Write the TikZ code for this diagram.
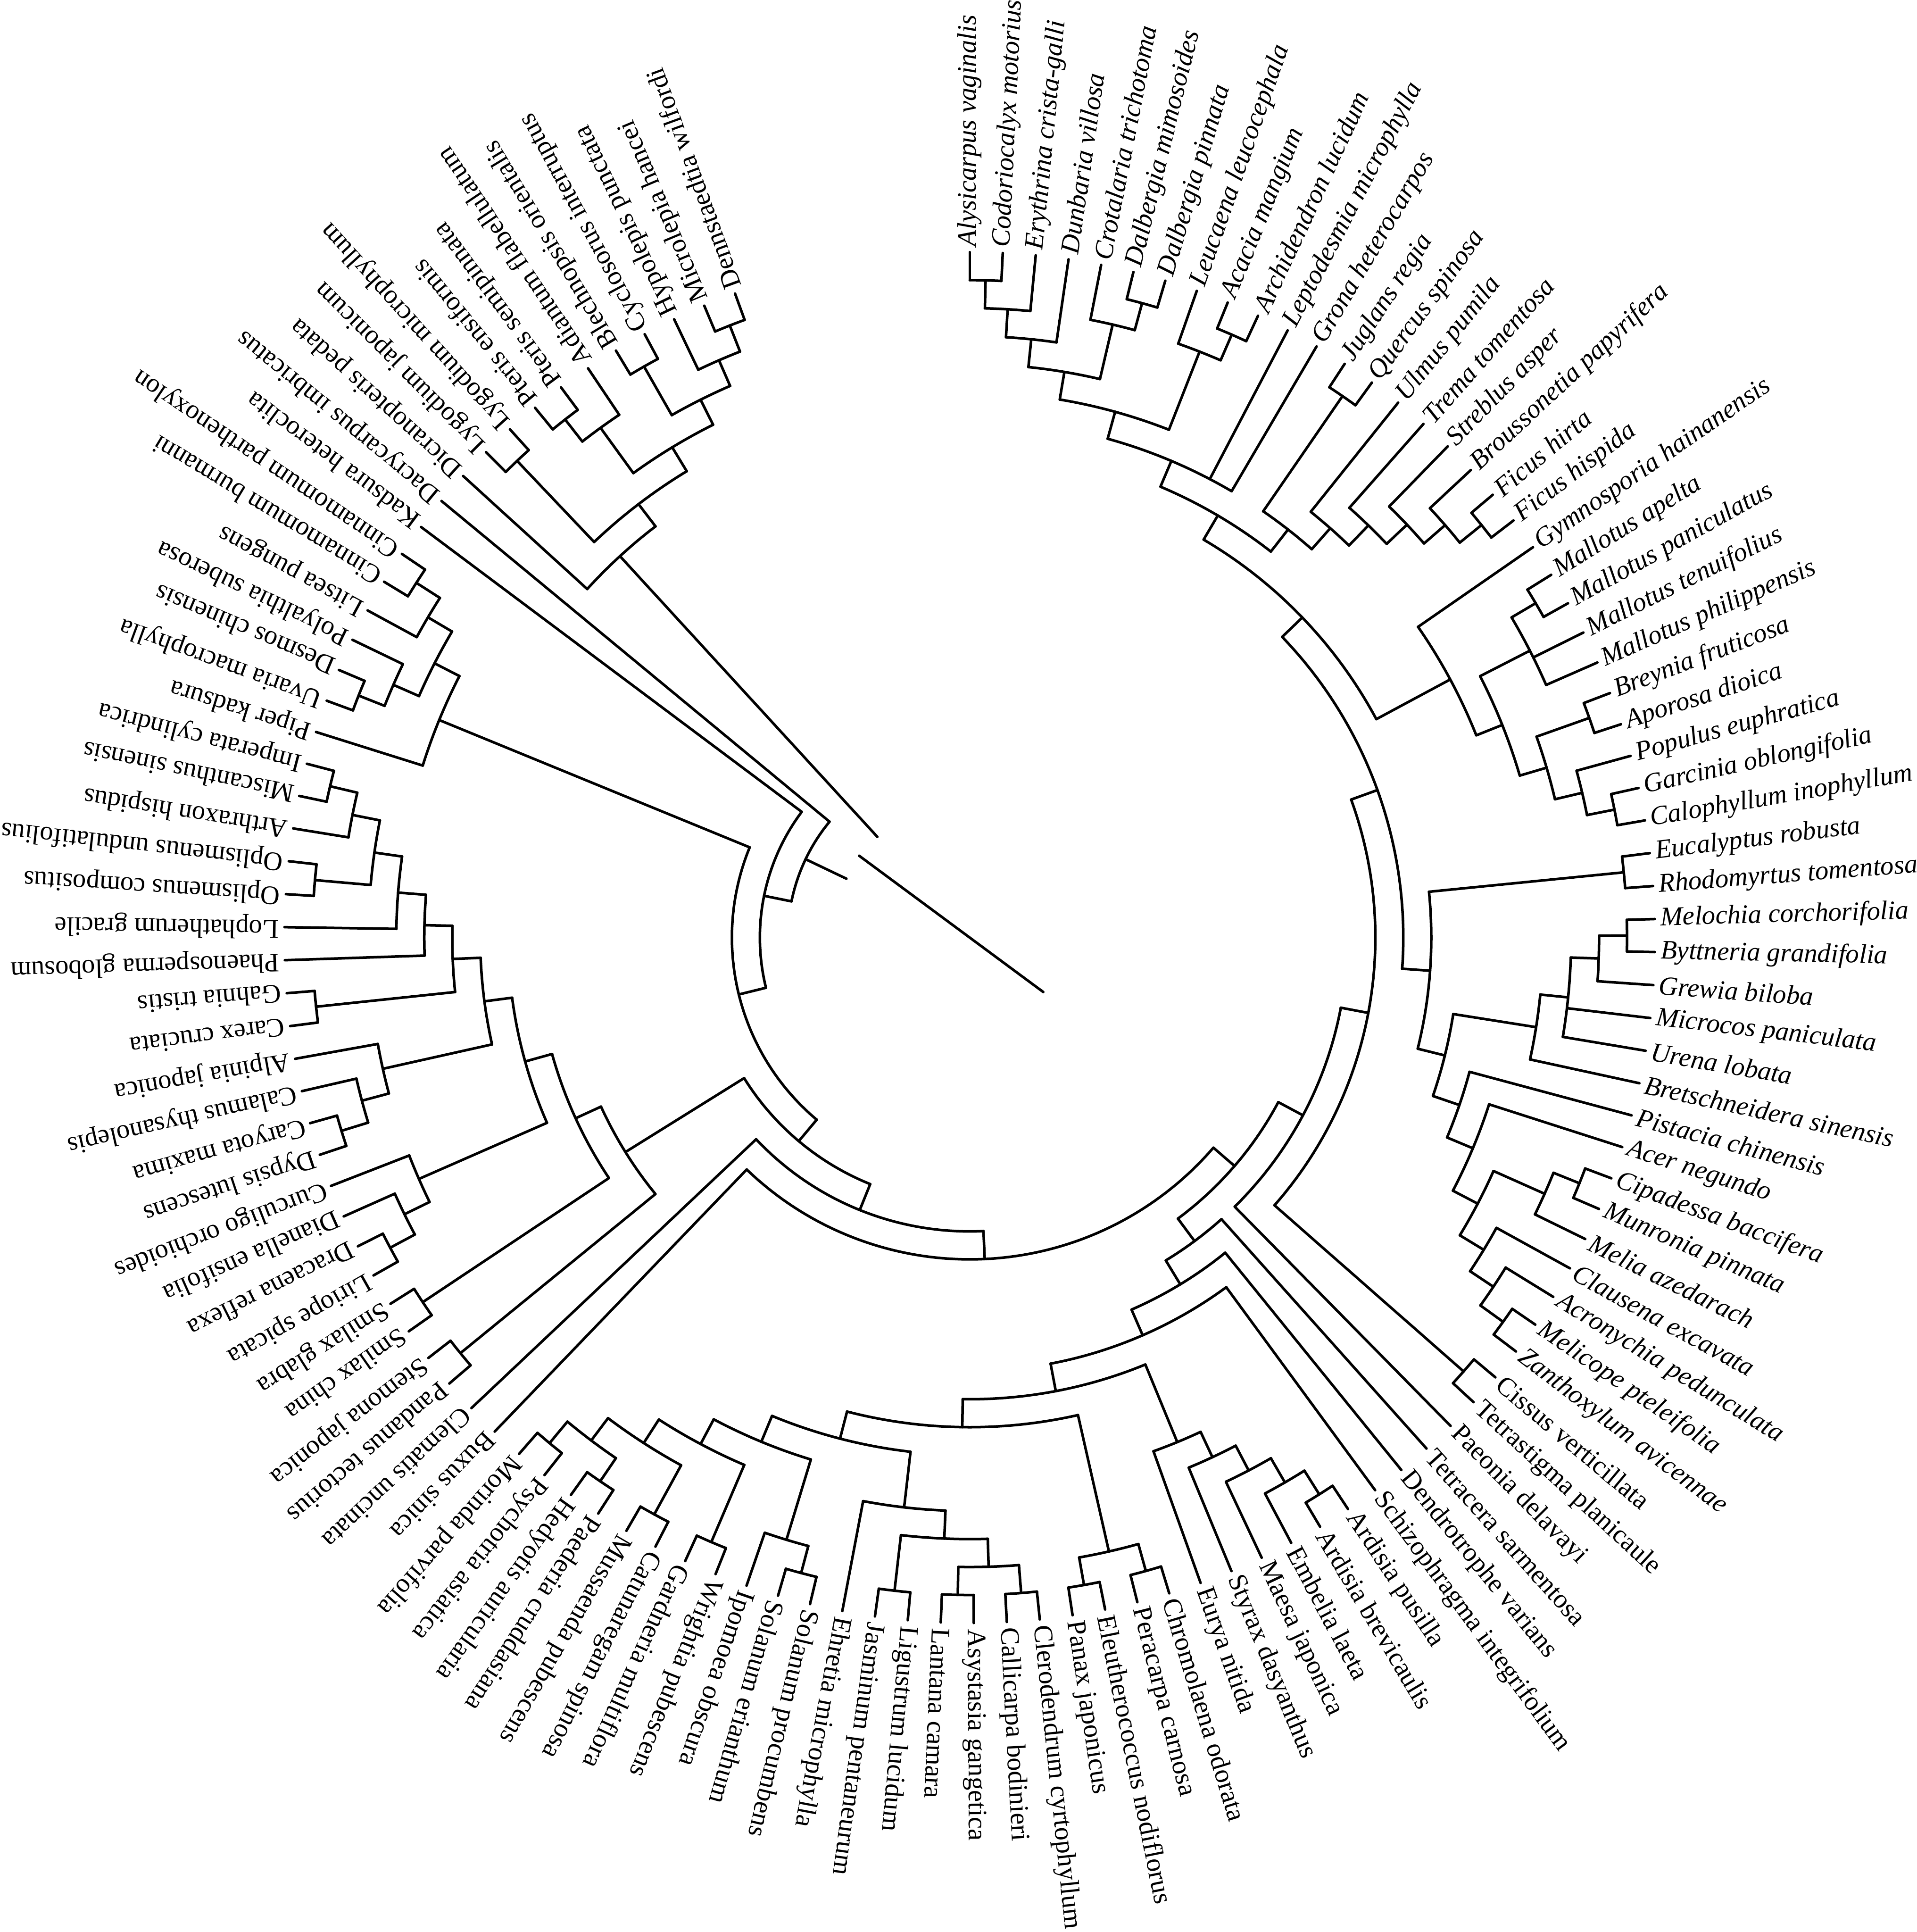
\documentclass[tikz,border=0pt]{standalone}
\usepackage{fontspec}
\setmainfont{Liberation Serif}

% radius of the tips, step between clade levels, angle between tips (cm, deg)
\newcommand{\Rt}{14.84}
\newcommand{\dr}{0.6056}
\newcommand{\angstep}{2.764}
\newcommand{\Rroot}{2.96}

% \clade{name}{children}: arc over the children, one radial stem per child
\newcommand{\clade}[2]{%
  \gdef\cfirst{}%
  \gdef\clev{0}%
  \foreach \ch in {#2}{%
    \ifx\cfirst\empty\xdef\cfirst{\ch}\fi
    \xdef\clast{\ch}%
    \pgfmathparse{max(\clev,\csname lv-\ch\endcsname)}%
    \xdef\clev{\pgfmathresult}%
  }%
  \pgfmathsetmacro\crad{\Rt-(\clev+1)*\dr}%
  \pgfmathsetmacro\afirst{\csname ang-\cfirst\endcsname}%
  \pgfmathsetmacro\alast{\csname ang-\clast\endcsname}%
  \pgfmathsetmacro\amid{(\afirst+\alast)/2}%
  \pgfmathsetmacro\clev{\clev+1}%
  \expandafter\xdef\csname ang-#1\endcsname{\amid}%
  \expandafter\xdef\csname lv-#1\endcsname{\clev}%
  \coordinate (#1) at (\amid:\crad);
  \draw[branch] (\afirst:\crad) arc[start angle=\afirst, end angle=\alast, radius=\crad];
  \foreach \ch in {#2}{%
    \edef\cang{\csname ang-\ch\endcsname}%
    \draw[branch] (\cang:\crad) -- (\ch);
  }%
}

\begin{document}
\begin{tikzpicture}[
  branch/.style={line width=1.6pt, line cap=round},
  taxon/.style={anchor=west, inner sep=0pt, font=\fontsize{16.5}{19}\selectfont},
]
\useasboundingbox (-21.00,-21.53) rectangle (20.51,20.30);

%---------------- Tips, clockwise from the top ----------------
\pgfmathsetmacro\rlab{\Rt+0.12}
\foreach \i/\sp in {
1/Alysicarpus vaginalis, 2/Codoriocalyx motorius, 3/Erythrina crista-galli,
4/Dunbaria villosa, 5/Crotalaria trichotoma, 6/Dalbergia mimosoides,
7/Dalbergia pinnata, 8/Leucaena leucocephala, 9/Acacia mangium,
10/Archidendron lucidum, 11/Leptodesmia microphylla, 12/Grona heterocarpos,
13/Juglans regia, 14/Quercus spinosa, 15/Ulmus pumila,
16/Trema tomentosa, 17/Streblus asper, 18/Broussonetia papyrifera,
19/Ficus hirta, 20/Ficus hispida, 21/Gymnosporia hainanensis,
22/Mallotus apelta, 23/Mallotus paniculatus, 24/Mallotus tenuifolius,
25/Mallotus philippensis, 26/Breynia fruticosa, 27/Aporosa dioica,
28/Populus euphratica, 29/Garcinia oblongifolia, 30/Calophyllum inophyllum,
31/Eucalyptus robusta, 32/Rhodomyrtus tomentosa, 33/Melochia corchorifolia,
34/Byttneria grandifolia, 35/Grewia biloba, 36/Microcos paniculata,
37/Urena lobata, 38/Bretschneidera sinensis, 39/Pistacia chinensis,
40/Acer negundo, 41/Cipadessa baccifera, 42/Munronia pinnata,
43/Melia azedarach, 44/Clausena excavata, 45/Acronychia pedunculata,
46/Melicope pteleifolia, 47/Zanthoxylum avicennae, 48/Cissus verticillata,
49/Tetrastigma planicaule, 50/Paeonia delavayi, 51/Tetracera sarmentosa,
52/Dendrotrophe varians, 53/Schizophragma integrifolium, 54/Ardisia pusilla,
55/Ardisia brevicaulis, 56/Embelia laeta, 57/Maesa japonica,
58/Styrax dasyanthus, 59/Eurya nitida, 60/Chromolaena odorata,
61/Peracarpa carnosa, 62/Eleutherococcus nodiflorus, 63/Panax japonicus,
64/Clerodendrum cyrtophyllum, 65/Callicarpa bodinieri, 66/Asystasia gangetica,
67/Lantana camara, 68/Ligustrum lucidum, 69/Jasminum pentaneurum,
70/Ehretia microphylla, 71/Solanum procumbens, 72/Solanum erianthum,
73/Ipomoea obscura, 74/Wrightia pubescens, 75/Gardneria multiflora,
76/Catunaregam spinosa, 77/Mussaenda pubescens, 78/Paederia cruddasiana,
79/Hedyotis auricularia, 80/Psychotria asiatica, 81/Morinda parvifolia,
82/Buxus sinica, 83/Clematis uncinata, 84/Pandanus tectorius,
85/Stemona japonica, 86/Smilax china, 87/Smilax glabra,
88/Liriope spicata, 89/Dracaena reflexa, 90/Dianella ensifolia,
91/Curculigo orchioides, 92/Dypsis lutescens, 93/Caryota maxima,
94/Calamus thysanolepis, 95/Alpinia japonica, 96/Carex cruciata,
97/Gahnia tristis, 98/Phaenosperma globosum, 99/Lophatherum gracile,
100/Oplismenus compositus, 101/Oplismenus undulatifolius, 102/Arthraxon hispidus,
103/Miscanthus sinensis, 104/Imperata cylindrica, 105/Piper kadsura,
106/Uvaria macrophylla, 107/Desmos chinensis, 108/Polyalthia suberosa,
109/Litsea pungens, 110/Cinnamomum burmanni, 111/Cinnamomum parthenoxylon,
112/Kadsura heteroclita, 113/Dacrycarpus imbricatus, 114/Dicranopteris pedata,
115/Lygodium japonicum, 116/Lygodium microphyllum, 117/Pteris ensiformis,
118/Pteris semipinnata, 119/Adiantum flabellulatum, 120/Blechnopsis orientalis,
121/Cyclosorus interruptus, 122/Hypolepis punctata, 123/Microlepia hancei,
124/Dennstaedtia wilfordi
}{
  \pgfmathsetmacro\ta{90-\angstep*(\i-1)}
  \expandafter\xdef\csname ang-t\i\endcsname{\ta}
  \expandafter\xdef\csname lv-t\i\endcsname{0}
  \ifnum\i<48 \def\tshape{\itshape}\else\def\tshape{\upshape}\fi
  \coordinate (t\i) at (\ta:\Rt);
  \node[taxon, rotate=\ta] (n\i) at (\ta:\rlab) {\tshape\sp};
}

%---------------- Fabids ----------------
\clade{fab1}{t1,t2}
\clade{fab2}{fab1,t3}
\clade{fab3}{fab2,t4}
\clade{dal}{t6,t7}
\clade{fab4}{t5,dal}
\clade{fab5}{fab3,fab4}
\clade{mim1}{t9,t10}
\clade{mim2}{t8,mim1}
\clade{fab6}{fab5,mim2}
\clade{fab}{fab6,t11,t12}
\clade{fag}{t13,t14}
\clade{fic}{t19,t20}
\clade{ros1}{t18,fic}
\clade{ros2}{t17,ros1}
\clade{ros3}{t16,ros2}
\clade{ros4}{t15,ros3}
\clade{rosfag}{fag,ros4}
\clade{fabid1}{fab,rosfag}
\clade{mal1}{t22,t23}
\clade{mal2}{mal1,t24,t25}
\clade{phy}{t26,t27}
\clade{clu}{t29,t30}
\clade{sal}{t28,clu}
\clade{malp1}{phy,sal}
\clade{malp2}{mal2,malp1}
\clade{malp}{t21,malp2}
\clade{fabid}{fabid1,malp}

%---------------- Malvids ----------------
\clade{myr}{t31,t32}
\clade{mv1}{t33,t34}
\clade{mv2}{mv1,t35}
\clade{mv3}{mv2,t36,t37}
\clade{mv4}{mv3,t38}
\clade{mel1}{t41,t42}
\clade{mel2}{mel1,t43}
\clade{rut1}{t46,t47}
\clade{rut2}{t45,rut1}
\clade{rut3}{t44,rut2}
\clade{sap1}{mel2,rut3}
\clade{sap2}{t40,sap1}
\clade{sap3}{t39,sap2}
\clade{malv1}{mv4,sap3}
\clade{malv}{myr,malv1}
\clade{ros}{fabid,malv}
\clade{vit}{t48,t49}
\clade{core1}{vit,ros}
\clade{core2}{t50,core1}

%---------------- Asterids ----------------
\clade{eric1}{t54,t55}
\clade{eric2}{eric1,t56}
\clade{eric3}{eric2,t57}
\clade{eric4}{eric3,t58}
\clade{eric}{eric4,t59}
\clade{ast1}{t60,t61}
\clade{apia}{t62,t63}
\clade{camp}{ast1,apia}
\clade{lam1}{t64,t65}
\clade{lam2}{t66,t67}
\clade{lam3}{lam2,lam1}
\clade{ole}{t68,t69}
\clade{lam4}{ole,lam3}
\clade{lam5}{lam4,t70}
\clade{sol1}{t71,t72}
\clade{sol2}{sol1,t73}
\clade{gen1}{t74,t75}
\clade{gen2}{t76,t77}
\clade{rub1}{t78,t79}
\clade{rub2}{t80,t81}
\clade{rub3}{rub1,rub2}
\clade{gen3}{gen2,rub3}
\clade{gen4}{gen1,gen3}
\clade{lamid1}{sol2,gen4}
\clade{lamid}{lam5,lamid1}
\clade{asterid}{camp,lamid}
\clade{sup1}{eric,asterid}
\clade{sup2}{t53,sup1}
\clade{sup3}{t52,sup2}
\clade{sup4}{t51,sup3}
\clade{core}{core2,sup4}
\clade{eud1}{t82,core}
\clade{eud}{t83,eud1}

%---------------- Monocots ----------------
\clade{pan}{t84,t85}
\clade{smi}{t86,t87}
\clade{asp1}{t88,t89}
\clade{asp2}{t90,asp1}
\clade{asp3}{t91,asp2}
\clade{arec1}{t92,t93}
\clade{arec2}{t94,arec1}
\clade{zin}{t95,arec2}
\clade{cyp}{t96,t97}
\clade{poa1}{t103,t104}
\clade{poa2}{t102,poa1}
\clade{poa3}{t100,t101}
\clade{poa4}{poa3,poa2}
\clade{poa5}{t99,poa4}
\clade{poa6}{t98,poa5}
\clade{pol1}{cyp,poa6}
\clade{com}{zin,pol1}
\clade{mono1}{asp3,com}
\clade{mono2}{smi,mono1}
\clade{mono}{pan,mono2}
\clade{mesa}{mono,eud}

%---------------- Magnoliids and seed plants ----------------
\clade{lau1}{t110,t111}
\clade{lau2}{t109,lau1}
\clade{ann1}{t106,t107}
\clade{ann2}{t108,ann1}
\clade{mag1}{lau2,ann2}
\clade{mag}{t105,mag1}
\clade{angio1}{mag,mesa}
\clade{angio}{t112,angio1}
\clade{seed}{t113,angio}

%---------------- Ferns ----------------
\clade{fern1}{t123,t124}
\clade{fern2}{t122,fern1}
\clade{fern3}{t120,t121}
\clade{fern4}{fern3,fern2}
\clade{fern5}{t117,t118}
\clade{fern6}{fern5,t119}
\clade{fern7}{fern6,fern4}
\clade{lyg}{t115,t116}
\clade{fern8}{lyg,fern7}
\clade{fern}{t114,fern8}

%---------------- Root ----------------
\pgfmathsetmacro\afern{\csname ang-fern\endcsname}
\pgfmathsetmacro\aseed{\csname ang-seed\endcsname}
\pgfmathsetmacro\aroot{(\afern+\aseed)/2}
\pgfmathsetmacro\aback{\aroot+180}
\coordinate (root) at (\aroot:2.98);
\coordinate (rootend) at (\aback:1.98);
\draw[branch] (\afern:\Rroot) -- (fern);
\draw[branch] (\aseed:\Rroot) -- (seed);
\draw[branch] (root) -- (rootend);

\end{tikzpicture}
\end{document}
